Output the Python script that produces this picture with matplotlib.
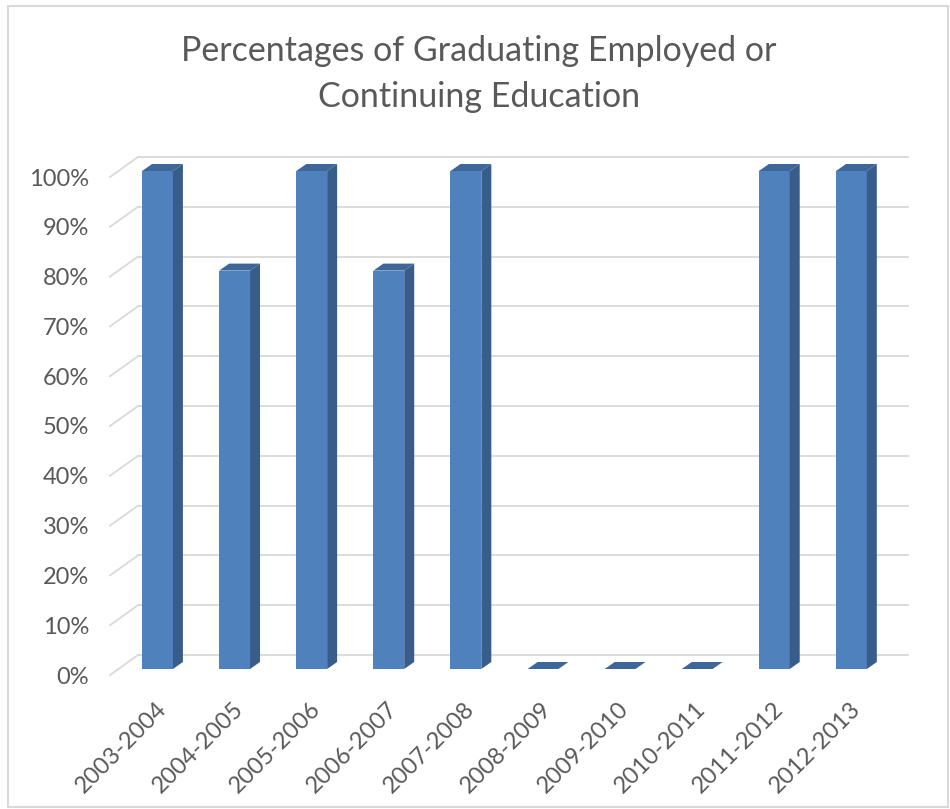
import matplotlib
matplotlib.use("Agg")
import matplotlib.pyplot as plt
import matplotlib.transforms as mtransforms
from matplotlib.patches import Polygon, Rectangle
import numpy as np

# ---- data ----
categories = ["2003-2004", "2004-2005", "2005-2006", "2006-2007", "2007-2008",
              "2008-2009", "2009-2010", "2010-2011", "2011-2012", "2012-2013"]
values = [100, 80, 100, 80, 100, 0, 0, 0, 100, 100]
y_ticks = [0, 10, 20, 30, 40, 50, 60, 70, 80, 90, 100]
y_tick_labels = [f"{v}%" for v in y_ticks]
title = "Percentages of Graduating Employed or\nContinuing Education"

# ---- style ----
FONT = ["Lato", "DejaVu Sans"]
TEXT_C = "#595959"
GRID_C = "#D9D9D9"
FRONT_C = "#4F81BD"
SIDE_C = "#385D8A"
TOP_C = "#3D6699"

W, H, DPI = 950, 809, 100
fig = plt.figure(figsize=(W / DPI, H / DPI), dpi=DPI)
fig.patch.set_facecolor("white")

# chart border
fig.patches.append(Rectangle((7.5 / W, 2.0 / H), (948 - 7.5) / W, (803 - 2.0) / H,
                             transform=fig.transFigure, fill=False,
                             edgecolor=GRID_C, linewidth=1.5))

# axes = front plane of the bars (pixel geometry)
ax_l, ax_r = 110, 908
y0_px, y100_px = 669, 171
ax = fig.add_axes([ax_l / W, (H - y0_px) / H, (ax_r - ax_l) / W, (y0_px - y100_px) / H])
ax.set_axis_off()
step = 77.1
first_c = 157.5
xmin = -(first_c - ax_l) / step
xmax = (ax_r - first_c) / step
ax.set_xlim(xmin, xmax)
ax.set_ylim(0, 100)

def px_off(dx, dy):
    return mtransforms.ScaledTranslation(dx / DPI, dy / DPI, fig.dpi_scale_trans)

blend = mtransforms.blended_transform_factory(ax.transAxes, ax.transData)

# gridlines: side wall diagonal + back wall
wall_dx, wall_dy_front, wall_dy_back = 28, -6, 14
wall_x0 = wall_dx / (ax_r - ax_l)
for v in y_ticks:
    p0 = blend.transform((0, v)) + np.array([0, wall_dy_front])
    p1 = blend.transform((0, v)) + np.array([wall_dx, wall_dy_back])
    ax.plot([p0[0], p1[0]], [p0[1], p1[1]], color=GRID_C, lw=1.3, clip_on=False,
            zorder=1, transform=None)
    ax.plot([wall_x0, 1], [v, v], color=GRID_C, lw=1.3, clip_on=False, zorder=1,
            transform=blend + px_off(0, wall_dy_back))

# bars
x = np.arange(len(categories))
bw = 0.40
ppx = (ax_r - ax_l) / (xmax - xmin)
ppy = (y0_px - y100_px) / 100.0
DX = 10 / ppx
DY = 7 / ppy
ax.bar(x, values, width=bw, color=FRONT_C, zorder=3, linewidth=0, clip_on=False)
for xi, v in zip(x, values):
    r = xi + bw / 2
    l = xi - bw / 2
    if v > 0:
        ax.add_patch(Polygon([(r, 0), (r + DX, DY), (r + DX, v + DY), (r, v)],
                             closed=True, facecolor=SIDE_C, edgecolor="none",
                             zorder=3, clip_on=False))
    ax.add_patch(Polygon([(l, v), (r, v), (r + DX, v + DY), (l + DX, v + DY)],
                         closed=True, facecolor=TOP_C, edgecolor="none",
                         zorder=3, clip_on=False))

# y labels
for v, lab in zip(y_ticks, y_tick_labels):
    ax.text(0, v, lab, transform=blend + px_off(-21, -8), ha="right", va="center",
            fontsize=17, color=TEXT_C, family=FONT)

# x labels
for xi, lab in zip(x, categories):
    ax.text(xi, 0, lab, transform=ax.transData + px_off(-2, -29), ha="right", va="top",
            rotation=45, rotation_mode="anchor", fontsize=17, color=TEXT_C, family=FONT)

fig.text(479 / W, 1 - 74 / H, title, ha="center", va="center", fontsize=24.5,
         color=TEXT_C, family=FONT, linespacing=1.55)

fig.savefig("out.png", dpi=DPI)
